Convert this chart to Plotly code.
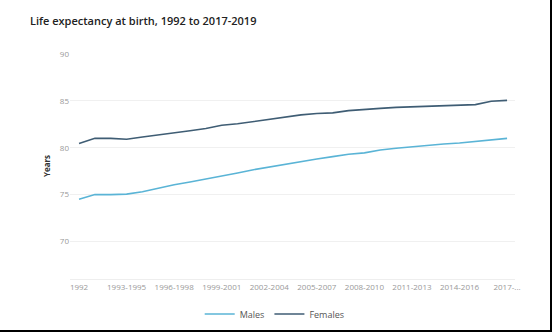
import plotly.graph_objects as go

categories = [f"{y}-{y+2}" for y in range(1990, 2018)]
tick_vals = categories[::3]
tick_labels = ["1992", "1993-1995", "1996-1998", "1999-2001", "2002-2004",
               "2005-2007", "2008-2010", "2011-2013", "2014-2016", "2017-..."]

males = [74.5, 75.0, 75.0, 75.05, 75.3, 75.7, 76.05, 76.35, 76.65, 77.0,
         77.3, 77.65, 77.95, 78.25, 78.55, 78.8, 79.05, 79.3, 79.45, 79.75,
         79.95, 80.1, 80.3, 80.4, 80.5, 80.65, 80.8, 81.0]
females = [80.45, 81.0, 81.0, 80.9, 81.15, 81.35, 81.55, 81.8, 82.05, 82.4,
           82.55, 82.8, 83.05, 83.3, 83.5, 83.65, 83.72, 83.95, 84.1, 84.2,
           84.3, 84.35, 84.45, 84.5, 84.55, 84.6, 84.95, 85.05]
y_ticks = [70, 75, 80, 85, 90]

fig = go.Figure()
fig.add_trace(go.Scatter(x=categories, y=males, name="Males", mode="lines",
                         line=dict(color="#5ab4d6", width=1.6)))
fig.add_trace(go.Scatter(x=categories, y=females, name="Females", mode="lines",
                         line=dict(color="#3f5d74", width=1.6)))

fig.update_layout(
    width=554, height=334,
    margin=dict(l=70, r=39, t=53, b=55, autoexpand=False),
    paper_bgcolor="white", plot_bgcolor="white",
    font=dict(family="Open Sans", color="#888"),
    title=dict(text="Life expectancy at birth, 1992 to 2017-2019",
               x=30/554, xanchor="left", y=1-21/334, yanchor="middle",
               font=dict(size=11, color="#222", family="Open Sans", weight=600)),
    showlegend=True,
    legend=dict(orientation="h", x=0.46, xanchor="center",
                yref="container", y=1-314/334, yanchor="middle",
                font=dict(size=9, color="#555"), itemwidth=30),
    xaxis=dict(type="category", range=[-0.57, 27.5], tickmode="array",
               tickvals=tick_vals, ticktext=tick_labels, tickfont=dict(size=8, color="#999"),
               showgrid=False, showline=True, linecolor="#eee", linewidth=1,
               ticks=""),
    yaxis=dict(range=[66, 90.1], tickvals=y_ticks, tickfont=dict(size=8, color="#999"),
               showgrid=True, gridcolor="#f0f0f0", gridwidth=1, zeroline=False,
               title=dict(text="Years", font=dict(size=8, color="#333", weight="bold"), standoff=8),
               ticks="", showline=False),
    shapes=[
        dict(type="line", xref="paper", yref="paper", x0=(551-70)/445, x1=(551-70)/445,
             y0=(279-0)/226, y1=(279-331)/226, line=dict(color="black", width=2)),
        dict(type="line", xref="paper", yref="paper", x0=-70/445, x1=(552-70)/445,
             y0=(279-331)/226, y1=(279-331)/226, line=dict(color="black", width=2)),
    ],
)

fig.write_html("out.html")
